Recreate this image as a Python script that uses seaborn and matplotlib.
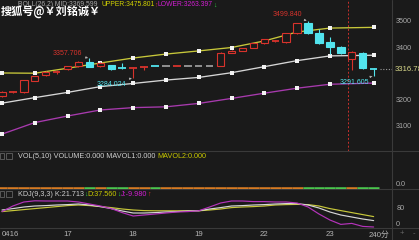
import numpy as np
import pandas as pd
import matplotlib
matplotlib.use("Agg")
import matplotlib.pyplot as plt
import seaborn as sns
from matplotlib.patches import Rectangle
from matplotlib.lines import Line2D

# ---------------- data ----------------
dates = ["0416", "17", "18", "19", "22", "23"]
date_idx = [0, 6, 12, 18, 24, 30]

opens = [3214, 3229, 3229, 3271, 3294, 3304, 3317, 3328, 3344, 3328,
         3332, 3322, 3320, 3324, 3328.5, 3328, 3328, 3328, 3328, 3328,
         3328, 3378, 3386, 3397, 3416, 3424, 3420, 3454, 3492, 3454,
         3420, 3401, 3355, 3378, 3317.5]
closes = [3229, 3230, 3275, 3290, 3306, 3305, 3328, 3344, 3325, 3340,
          3317, 3321, 3321, 3325, 3328, 3328, 3328.5, 3328, 3328, 3328,
          3378, 3386, 3397, 3416, 3431, 3425, 3454, 3492, 3454, 3416,
          3401, 3378, 3382, 3321, 3316.7]
highs = [3232, 3232, 3277, 3292, 3308, 3312, 3330, 3346, 3357.706, 3342,
         3334, 3340, 3323, 3327, 3328.5, 3328, 3328.5, 3328, 3328, 3328,
         3380, 3388, 3399, 3418, 3433, 3427, 3456, 3494, 3499.840, 3469,
         3439, 3403, 3384, 3380, 3320]
lows = [3212, 3226, 3227, 3270, 3292, 3297, 3315, 3326, 3323, 3326,
        3315, 3319, 3284.024, 3313, 3328, 3328, 3328, 3328, 3328, 3328,
        3327, 3377, 3385, 3396, 3414, 3421, 3418, 3452, 3450, 3414,
        3374, 3376, 3313, 3319, 3291.605]

boll_idx = [0, 3, 6, 9, 12, 15, 18, 21, 24, 27, 30, 34]
boll_upper = [3302, 3301, 3320, 3340, 3359, 3374, 3386, 3399, 3424, 3458, 3473, 3475.8]
boll_mid = [3187, 3208, 3228, 3250, 3262, 3275, 3285, 3303, 3326, 3349, 3367, 3369.6]
boll_lower = [3069, 3113, 3138, 3161, 3170, 3173, 3186, 3205, 3225, 3244, 3259, 3263.4]

kdj_k = [65, 72, 80, 85, 87, 90, 92, 95, 90, 82, 72, 60, 50, 50, 52, 55, 57, 60,
         61, 70, 77, 85, 87, 90, 92, 95, 97, 97, 90, 75, 55, 40, 30, 20, 12]
kdj_d = [57, 62, 67, 72, 77, 82, 87, 90, 87, 82, 77, 70, 65, 62, 61, 61, 61, 61,
         61, 65, 70, 77, 80, 82, 85, 90, 92, 93, 92, 85, 72, 62, 52, 42, 32]
kdj_j = [57, 85, 105, 111, 110, 110, 110, 105, 95, 85, 72, 52, 35, 40, 45, 50, 55, 57,
         61, 80, 100, 110, 110, 107, 107, 105, 105, 100, 80, 45, 15, -7, -2, -17, -20]

price_ticks = [3100, 3200, 3400, 3500]
kdj_ticks = [0, 80]
last_price = 3316.7
price_labels = {"high1": 3357.706, "high2": 3499.840, "low1": 3284.024, "low2": 3291.605}

# ---------------- style ----------------
sns.set_theme(style="dark")
plt.rcParams["font.family"] = ["Liberation Sans", "Noto Sans CJK SC", "DejaVu Sans"]

BG = "#1a1a1a"
SEP = "#3a3a3a"
RED = "#d8332c"
CYAN = "#52e4ee"
FLAT = "#9a9a9a"
YEL = "#c8c83a"
WHT = "#d6d6d6"
PUR = "#a83aae"
TXT = "#a8a8a8"

W, H = 419, 240
fig = plt.figure(figsize=(W / 100, H / 100), dpi=100, facecolor=BG)


def axes_px(x0, y0, x1, y1):
    a = fig.add_axes([x0 / W, 1 - y1 / H, (x1 - x0) / W, (y1 - y0) / H])
    a.set_facecolor(BG)
    for s in a.spines.values():
        s.set_visible(False)
    a.grid(False)
    return a


ax = axes_px(0, 0, 392, 151)
axv = axes_px(0, 151, 392, 189)
axk = axes_px(0, 189, 392, 228)

n = len(opens)
xs = np.arange(n)
XL = (-0.18, 35.68)
for a in (ax, axv, axk):
    a.set_xlim(*XL)

# ---------------- main panel ----------------
ax.set_ylim(3004.7, 3580)
bw = 0.68
for i in range(n):
    o, c, h, l = opens[i], closes[i], highs[i], lows[i]
    if c > o:
        col = RED
    elif c < o:
        col = CYAN
    else:
        col = FLAT
    ax.vlines(i, l, min(o, c), color=col, lw=0.8, zorder=3)
    ax.vlines(i, max(o, c), h, color=col, lw=0.8, zorder=3)
    if abs(c - o) < 2.5:
        ax.hlines((o + c) / 2, i - bw / 2, i + bw / 2, color=col, lw=1.3, zorder=4)
    else:
        ax.add_patch(Rectangle((i - bw / 2, min(o, c)), bw, abs(c - o),
                               facecolor=BG if c > o else col, edgecolor=col,
                               lw=0.8, zorder=4))

boll = pd.DataFrame({"idx": boll_idx, "upper": boll_upper, "mid": boll_mid, "lower": boll_lower})
for name, col in [("upper", YEL), ("mid", WHT), ("lower", PUR)]:
    sns.lineplot(data=boll, x="idx", y=name, ax=ax, color=col, lw=0.95, marker="s",
                 markersize=2.8, markerfacecolor="#f2f2f2", markeredgewidth=0, zorder=2)

ax.axvline(31.65, color="#c8302c", lw=0.7, ls=(0, (2, 2)), zorder=1)
ax.hlines(last_price, 34.6, XL[1], color="#9a9a9a", lw=0.8, ls=(0, (1, 1.5)))

ax.yaxis.tick_right()
ax.set_yticks(price_ticks)
ax.set_yticklabels([str(t) for t in price_ticks])
ax.tick_params(axis="y", length=0, pad=3, labelsize=5.2, labelcolor=TXT)
ax.set_xticks([])
ax.set_xlabel("")
ax.set_ylabel("")
ax.annotate("3316.78", xy=(1.0, last_price),
            xycoords=("axes fraction", "data"), xytext=(2, 0), textcoords="offset points",
            ha="left", va="center", fontsize=5.6, color="#d8d88a", annotation_clip=False)

arrow = dict(arrowstyle="-|>", color="#b0b0b0", lw=0.5, mutation_scale=3, shrinkA=0, shrinkB=1)
ax.annotate(f"{price_labels['high1']:.3f}", xy=(8, price_labels["high1"]), xytext=(6.0, 3378),
            ha="center", va="center", fontsize=5, color=RED, arrowprops=arrow)
ax.annotate(f"{price_labels['high2']:.3f}", xy=(28, price_labels["high2"]), xytext=(26.1, 3523),
            ha="center", va="center", fontsize=5, color=RED, arrowprops=arrow)
ax.annotate(f"{price_labels['low1']:.3f}", xy=(12, price_labels["low1"]), xytext=(10.0, 3258),
            ha="center", va="center", fontsize=5, color=CYAN, arrowprops=arrow)
ax.annotate(f"{price_labels['low2']:.3f}", xy=(34, price_labels["low2"]), xytext=(32.2, 3266),
            ha="center", va="center", fontsize=5, color=CYAN, arrowprops=arrow)

# ---------------- volume panel ----------------
axv.set_ylim(-0.035, 1)
for i in range(n):
    col = "#4ccf50" if closes[i] < opens[i] else "#e07f22"
    axv.hlines(0, i - 0.5, i + 0.5, color=col, lw=1.8)
axv.yaxis.tick_right()
axv.set_yticks([0])
axv.set_yticklabels(["0.0"], va="bottom")
axv.tick_params(axis="y", length=0, pad=3, labelsize=5.2, labelcolor=TXT)
axv.set_xticks([])

# ---------------- KDJ panel ----------------
axk.set_ylim(-25, 170)
kdj = pd.DataFrame({"i": xs, "K": kdj_k, "D": kdj_d, "J": kdj_j})
for name, col in [("D", YEL), ("K", WHT), ("J", "#b533bb")]:
    sns.lineplot(data=kdj, x="i", y=name, ax=axk, color=col, lw=0.85)
axk.yaxis.tick_right()
axk.set_yticks(kdj_ticks)
axk.set_yticklabels([str(t) for t in kdj_ticks])
axk.tick_params(axis="y", length=0, pad=3, labelsize=5.2, labelcolor=TXT)
axk.set_xticks(date_idx)
axk.set_xticklabels(dates)
axk.tick_params(axis="x", length=0, pad=2.5, labelsize=5.6, labelcolor="#b4b4b4")
axk.get_xticklabels()[0].set_ha("left")
axk.set_xlabel("")
axk.set_ylabel("")
axk.annotate("240分", xy=(1.0, 0), xycoords="axes fraction", xytext=(-2, -2.5),
             textcoords="offset points", ha="right", va="top", fontsize=5.6,
             color="#b4b4b4", annotation_clip=False)

# ---------------- frame lines ----------------
for y in (151, 189, 228):
    fig.add_artist(Line2D([0, 1], [1 - y / H, 1 - y / H], color=SEP, lw=0.8))
fig.add_artist(Line2D([392 / W, 392 / W], [0, 1], color=SEP, lw=0.8))

# ---------------- header texts ----------------
renderer = fig.canvas.get_renderer()


def chain(x_px, y_px, parts, size, **kw):
    x = x_px
    for s, col in parts:
        t = fig.text(x / W, 1 - y_px / H, s, color=col, fontsize=size, va="center", ha="left", **kw)
        bb = t.get_window_extent(renderer)
        x = bb.x1
    return x


fig.text(97 / W, 1 - 5 / H, "BOLL(26,2) MID:3369.599", color=TXT, fontsize=4.9,
         ha="right", va="center")
chain(101, 5, [("UPPER:3475.801", "#d2d200"), ("↑", RED), ("LOWER:3263.397", "#d21ed2"),
               ("↓", "#2ecc40")], 4.9)
fig.text(1 / W, 1 - 12 / H, "搜狐号@￥刘铭诚￥", color="white", fontsize=8,
         fontweight="bold", ha="left", va="center",
         family=["Noto Sans CJK SC", "DejaVu Sans"])

for yc in (156, 194):
    fig.add_artist(Rectangle((0 / W, 1 - (yc + 3) / H), 4 / W, 6 / H, transform=fig.transFigure,
                             facecolor="none", edgecolor="#707070", lw=0.5))
    fig.add_artist(Rectangle((6 / W, 1 - (yc + 3) / H), 6 / W, 6 / H, transform=fig.transFigure,
                             facecolor="none", edgecolor="#707070", lw=0.5))

chain(18, 156, [("VOL(5,10) VOLUME:0.000 MAVOL1:0.000 ", "#cfcfcf"),
                ("MAVOL2:0.000", "#c8c800")], 5.2)
chain(18, 194, [("KDJ(9,3,3) K:21.713", "#cfcfcf"), ("↓", "#2ecc40"),
                ("D:37.560", "#c8c800"), ("↓", "#2ecc40"),
                ("J:-9.980", "#d21ed2"), ("↑", RED)], 5.2)

fig.text(402 / W, 1 - 234 / H, "+", color="#6a6a6a", fontsize=5.5, ha="center", va="center")
fig.text(414 / W, 1 - 234 / H, "-", color="#6a6a6a", fontsize=5.5, ha="center", va="center")

fig.savefig("out.png", dpi=100, facecolor=BG)
